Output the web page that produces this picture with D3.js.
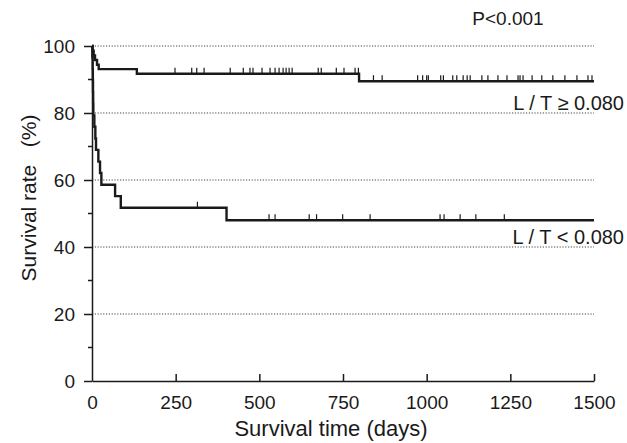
<!DOCTYPE html>
<html>
<head>
<meta charset="utf-8">
<script src="https://cdn.jsdelivr.net/npm/d3@7"></script>
<style>
  body { margin: 0; background: #fff; }
  text { font-family: "Liberation Sans", Arial, sans-serif; fill: #1a1a1a; }
</style>
</head>
<body>
<script>
// Kaplan-Meier steps
const hiTimes = [0, 2, 5, 9, 15, 20, 134, 798, 1500];
const hiSurv = [100, 98.6, 97.2, 95.8, 94.4, 93.1, 91.7, 89.5, 89.5];
const hiCensor = [248, 298, 313, 335, 413, 452, 472, 481, 508, 532, 547, 559, 571, 580,
  589, 598, 676, 685, 730, 753, 786, 796, 841, 867, 973, 988, 1000, 1005, 1042, 1050,
  1078, 1090, 1109, 1121, 1130, 1165, 1183, 1213, 1240, 1273, 1279, 1288, 1315, 1344,
  1377, 1413, 1449, 1482, 1494];

const loTimes = [0, 1, 2, 2.5, 3, 3.5, 4, 7, 10, 12, 19, 24, 28, 69, 86, 402, 1500];
const loSurv = [100, 96.6, 93.1, 89.7, 86.2, 82.8, 79.3, 75.9, 72.4, 69.0, 65.5, 62.1,
  58.6, 55.2, 51.7, 48.0, 48.0];
const loCensor = [315, 529, 547, 649, 671, 749, 831, 1040, 1052, 1100, 1147, 1232];

const xTicks = [0, 250, 500, 750, 1000, 1250, 1500];
const yTicks = [0, 20, 40, 60, 80, 100];
const yMinor = [10, 30, 50, 70, 90];

var width = 627,
  height = 443;

var svg = d3
  .select("body")
  .append("svg")
  .attr("width", width)
  .attr("height", height);

var xScale = d3.scaleLinear().domain([0, 1500]).range([92, 594]);
var yScale = d3.scaleLinear().domain([0, 100]).range([381, 46]);

// dotted grid
svg
  .selectAll(".grid")
  .data(yTicks.filter((d) => d > 0))
  .enter()
  .append("line")
  .attr("x1", xScale(0))
  .attr("x2", xScale(1500))
  .attr("y1", (d) => yScale(d))
  .attr("y2", (d) => yScale(d))
  .style("stroke", "#444")
  .style("stroke-width", 1)
  .style("stroke-dasharray", "1.2,1.6");

// axes
var xAxis = d3
  .axisBottom(xScale)
  .tickValues(xTicks)
  .tickFormat(d3.format("d"))
  .tickSizeInner(-7)
  .tickSizeOuter(0)
  .tickPadding(18);
var yAxis = d3
  .axisLeft(yScale)
  .tickValues(yTicks)
  .tickSizeInner(8)
  .tickSizeOuter(0)
  .tickPadding(9);

var gx = svg
  .append("g")
  .attr("transform", `translate(0, ${yScale(0)})`)
  .call(xAxis);
gx.selectAll("text").style("font-size", "19px").attr("dy", "0.55em");

var gy = svg
  .append("g")
  .attr("transform", `translate(${xScale(0)}, 0)`)
  .call(yAxis);
gy.selectAll("text").style("font-size", "19px");

gy.selectAll(".minor")
  .data(yMinor)
  .enter()
  .append("line")
  .attr("class", "minor")
  .attr("x1", -4)
  .attr("x2", 0)
  .attr("y1", (d) => yScale(d))
  .attr("y2", (d) => yScale(d));

svg.selectAll(".domain, .tick line, .minor")
  .style("stroke", "#1a1a1a")
  .style("stroke-width", 1.5);
gx.select(".tick line").remove();

// curves
function steps(times, surv) {
  return times.map((t, i) => [t, surv[i]]);
}

function levelAt(times, surv, t) {
  var i = d3.bisectRight(times, t) - 1;
  return surv[Math.max(0, i)];
}

var line = d3
  .line()
  .x((d) => xScale(d[0]))
  .y((d) => yScale(d[1]))
  .curve(d3.curveStepAfter);

var groups = [
  { times: hiTimes, surv: hiSurv, censor: hiCensor },
  { times: loTimes, surv: loSurv, censor: loCensor },
];

groups.forEach(function (g) {
  svg
    .append("path")
    .attr("d", line(steps(g.times, g.surv)))
    .style("fill", "none")
    .style("stroke", "#1a1a1a")
    .style("stroke-width", 2.4);

  svg
    .selectAll(null)
    .data(g.censor)
    .enter()
    .append("line")
    .attr("x1", (d) => xScale(d))
    .attr("x2", (d) => xScale(d))
    .attr("y1", (d) => yScale(levelAt(g.times, g.surv, d)))
    .attr("y2", (d) => yScale(levelAt(g.times, g.surv, d)) - 6)
    .style("stroke", "#1a1a1a")
    .style("stroke-width", 1.2);
});

// labels
svg
  .append("text")
  .text("P<0.001")
  .attr("x", 508)
  .attr("y", 25)
  .attr("text-anchor", "middle")
  .style("font-size", "19px");

svg
  .append("text")
  .text("L / T \u2265 0.080")
  .attr("x", 624)
  .attr("y", 110)
  .attr("text-anchor", "end")
  .style("font-size", "20px");

svg
  .append("text")
  .text("L / T < 0.080")
  .attr("x", 624)
  .attr("y", 244)
  .attr("text-anchor", "end")
  .style("font-size", "20px");

svg
  .append("text")
  .text("Survival time (days)")
  .attr("x", 331)
  .attr("y", 436)
  .attr("text-anchor", "middle")
  .style("font-size", "22px");

svg
  .append("text")
  .text("Survival rate\u00a0\u00a0\u00a0(%)")
  .attr("transform", "translate(36, 198) rotate(-90)")
  .attr("text-anchor", "middle")
  .style("font-size", "21px");
</script>
</body>
</html>
